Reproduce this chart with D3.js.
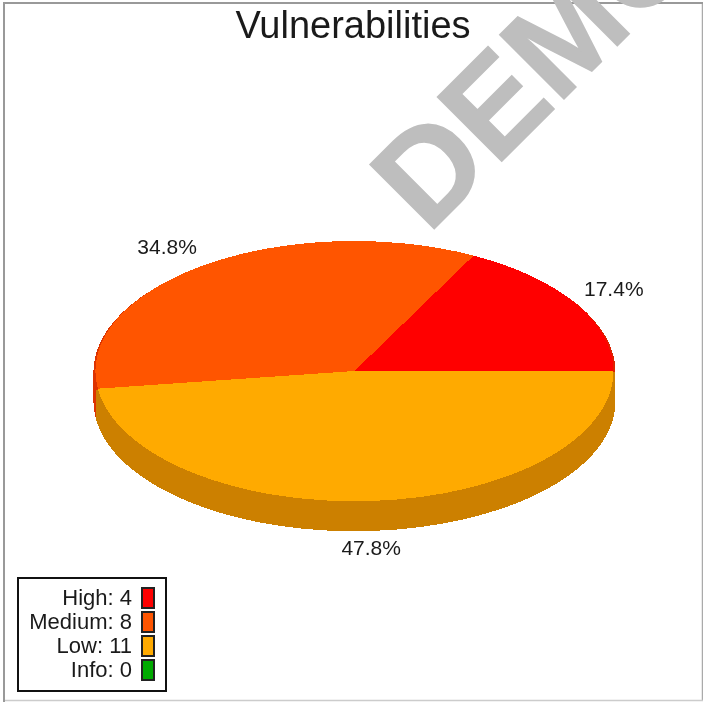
<!DOCTYPE html>
<html>
<head>
<meta charset="utf-8">
<script src="https://cdn.jsdelivr.net/npm/d3@7"></script>
<style>
html, body { margin: 0; padding: 0; background: #fff; }
svg { display: block; font-family: "Liberation Sans", sans-serif; }
text { filter: blur(0.4px); }
text.watermark { filter: none; }
</style>
</head>
<body>
<div id="chart"></div>
<script>
const categories = ["High", "Medium", "Low", "Info"];
const counts = [4, 8, 11, 0];
const colors = ["#ff0000", "#ff5500", "#ffaa00", "#00aa00"];
const sideColors = ["#dd2200", "#dd3300", "#cc8000", "#008800"];
const percentLabels = ["17.4%", "34.8%", "47.8%"];

const WIDTH = 703;
const HEIGHT = 702;
const cx = 354.5;
const cy = 371;
const rx = 259;
const ry = 130;
const DEPTH = 30;

const svg = d3
	.select("#chart")
	.append("svg")
	.attr("width", WIDTH)
	.attr("height", HEIGHT);

// frame, heavier on the top and left than on the other two sides
const frame = svg.append("g").attr("fill", "none");
frame.append("path").attr("d", "M702.5,3V700").attr("stroke", "#aaa").attr("stroke-width", 1.5);
frame.append("path").attr("d", "M4,700.5H703").attr("stroke", "#ccc").attr("stroke-width", 1.5);
frame.append("path").attr("d", "M4,702V3H703").attr("stroke", "#999").attr("stroke-width", 2);

svg.append("text")
	.attr("x", 353)
	.attr("y", 38)
	.attr("text-anchor", "middle")
	.attr("font-size", 38)
	.attr("fill", "#1a1a1a")
	.text("Vulnerabilities");

// angles run counter clockwise from 3 o'clock, so d3.pie is rotated to suit
const pie = d3
	.pie()
	.sort(null)
	.startAngle(Math.PI / 2)
	.endAngle(Math.PI / 2 - 2 * Math.PI);
const slices = pie(counts);

const arc = d3.arc().innerRadius(0).outerRadius(1);
const flatten = (dy, extra = 0) =>
	`translate(${cx},${cy + dy}) scale(${rx + extra},${ry})`;

const pieG = svg.append("g").attr("shape-rendering", "crispEdges");

// side wall: stacked copies of the slices, deepest first
d3.range(DEPTH, 0, -1).forEach((dy) => {
	pieG.append("g")
		.attr("transform", flatten(dy, 2))
		.selectAll("path")
		.data(slices)
		.join("path")
		.attr("d", arc)
		.attr("fill", (d, i) => sideColors[i]);
});

pieG.append("g")
	.attr("transform", flatten(0))
	.selectAll("path")
	.data(slices)
	.join("path")
	.attr("d", arc)
	.attr("fill", (d, i) => colors[i]);

// percent labels hang off the rim point at each slice's middle angle
const labelOffset = [
	[38, -7],
	[-38, -11],
	[-1, 54],
];
const midAngle = (d) => (d.startAngle + d.endAngle) / 2;
svg.append("g")
	.selectAll("text")
	.data(percentLabels)
	.join("text")
	.attr("x", (d, i) => cx + rx * Math.sin(midAngle(slices[i])) + labelOffset[i][0])
	.attr("y", (d, i) => cy - ry * Math.cos(midAngle(slices[i])) + labelOffset[i][1])
	.attr("text-anchor", "middle")
	.attr("font-size", 21)
	.attr("fill", "#1a1a1a")
	.text((d) => d);

// watermark
svg.append("text")
	.attr("class", "watermark")
	.attr("transform", "translate(428,235) rotate(-45)")
	.attr("font-size", 132)
	.attr("font-weight", "bold")
	.attr("fill", "#bebebe")
	.attr("stroke", "#bebebe")
	.attr("stroke-width", 1.5)
	.text("DEMO");

// legend
const legend = svg.append("g");
legend.append("rect")
	.attr("x", 18)
	.attr("y", 578)
	.attr("width", 148)
	.attr("height", 113)
	.attr("fill", "#fff")
	.attr("stroke", "#111")
	.attr("stroke-width", 2);

const rowY = d3
	.scalePoint()
	.domain(categories)
	.range([598, 670]);

const rows = legend
	.selectAll("g")
	.data(categories)
	.join("g")
	.attr("transform", (d) => `translate(0,${rowY(d)})`);

rows.append("text")
	.attr("x", 132)
	.attr("y", 7)
	.attr("text-anchor", "end")
	.attr("font-size", 22)
	.attr("fill", "#1a1a1a")
	.text((d, i) => `${d}: ${counts[i]}`);

rows.append("rect")
	.attr("x", 142)
	.attr("y", -10)
	.attr("width", 12)
	.attr("height", 20)
	.attr("fill", (d, i) => colors[i])
	.attr("stroke", "#222")
	.attr("stroke-width", 2);
</script>
</body>
</html>
